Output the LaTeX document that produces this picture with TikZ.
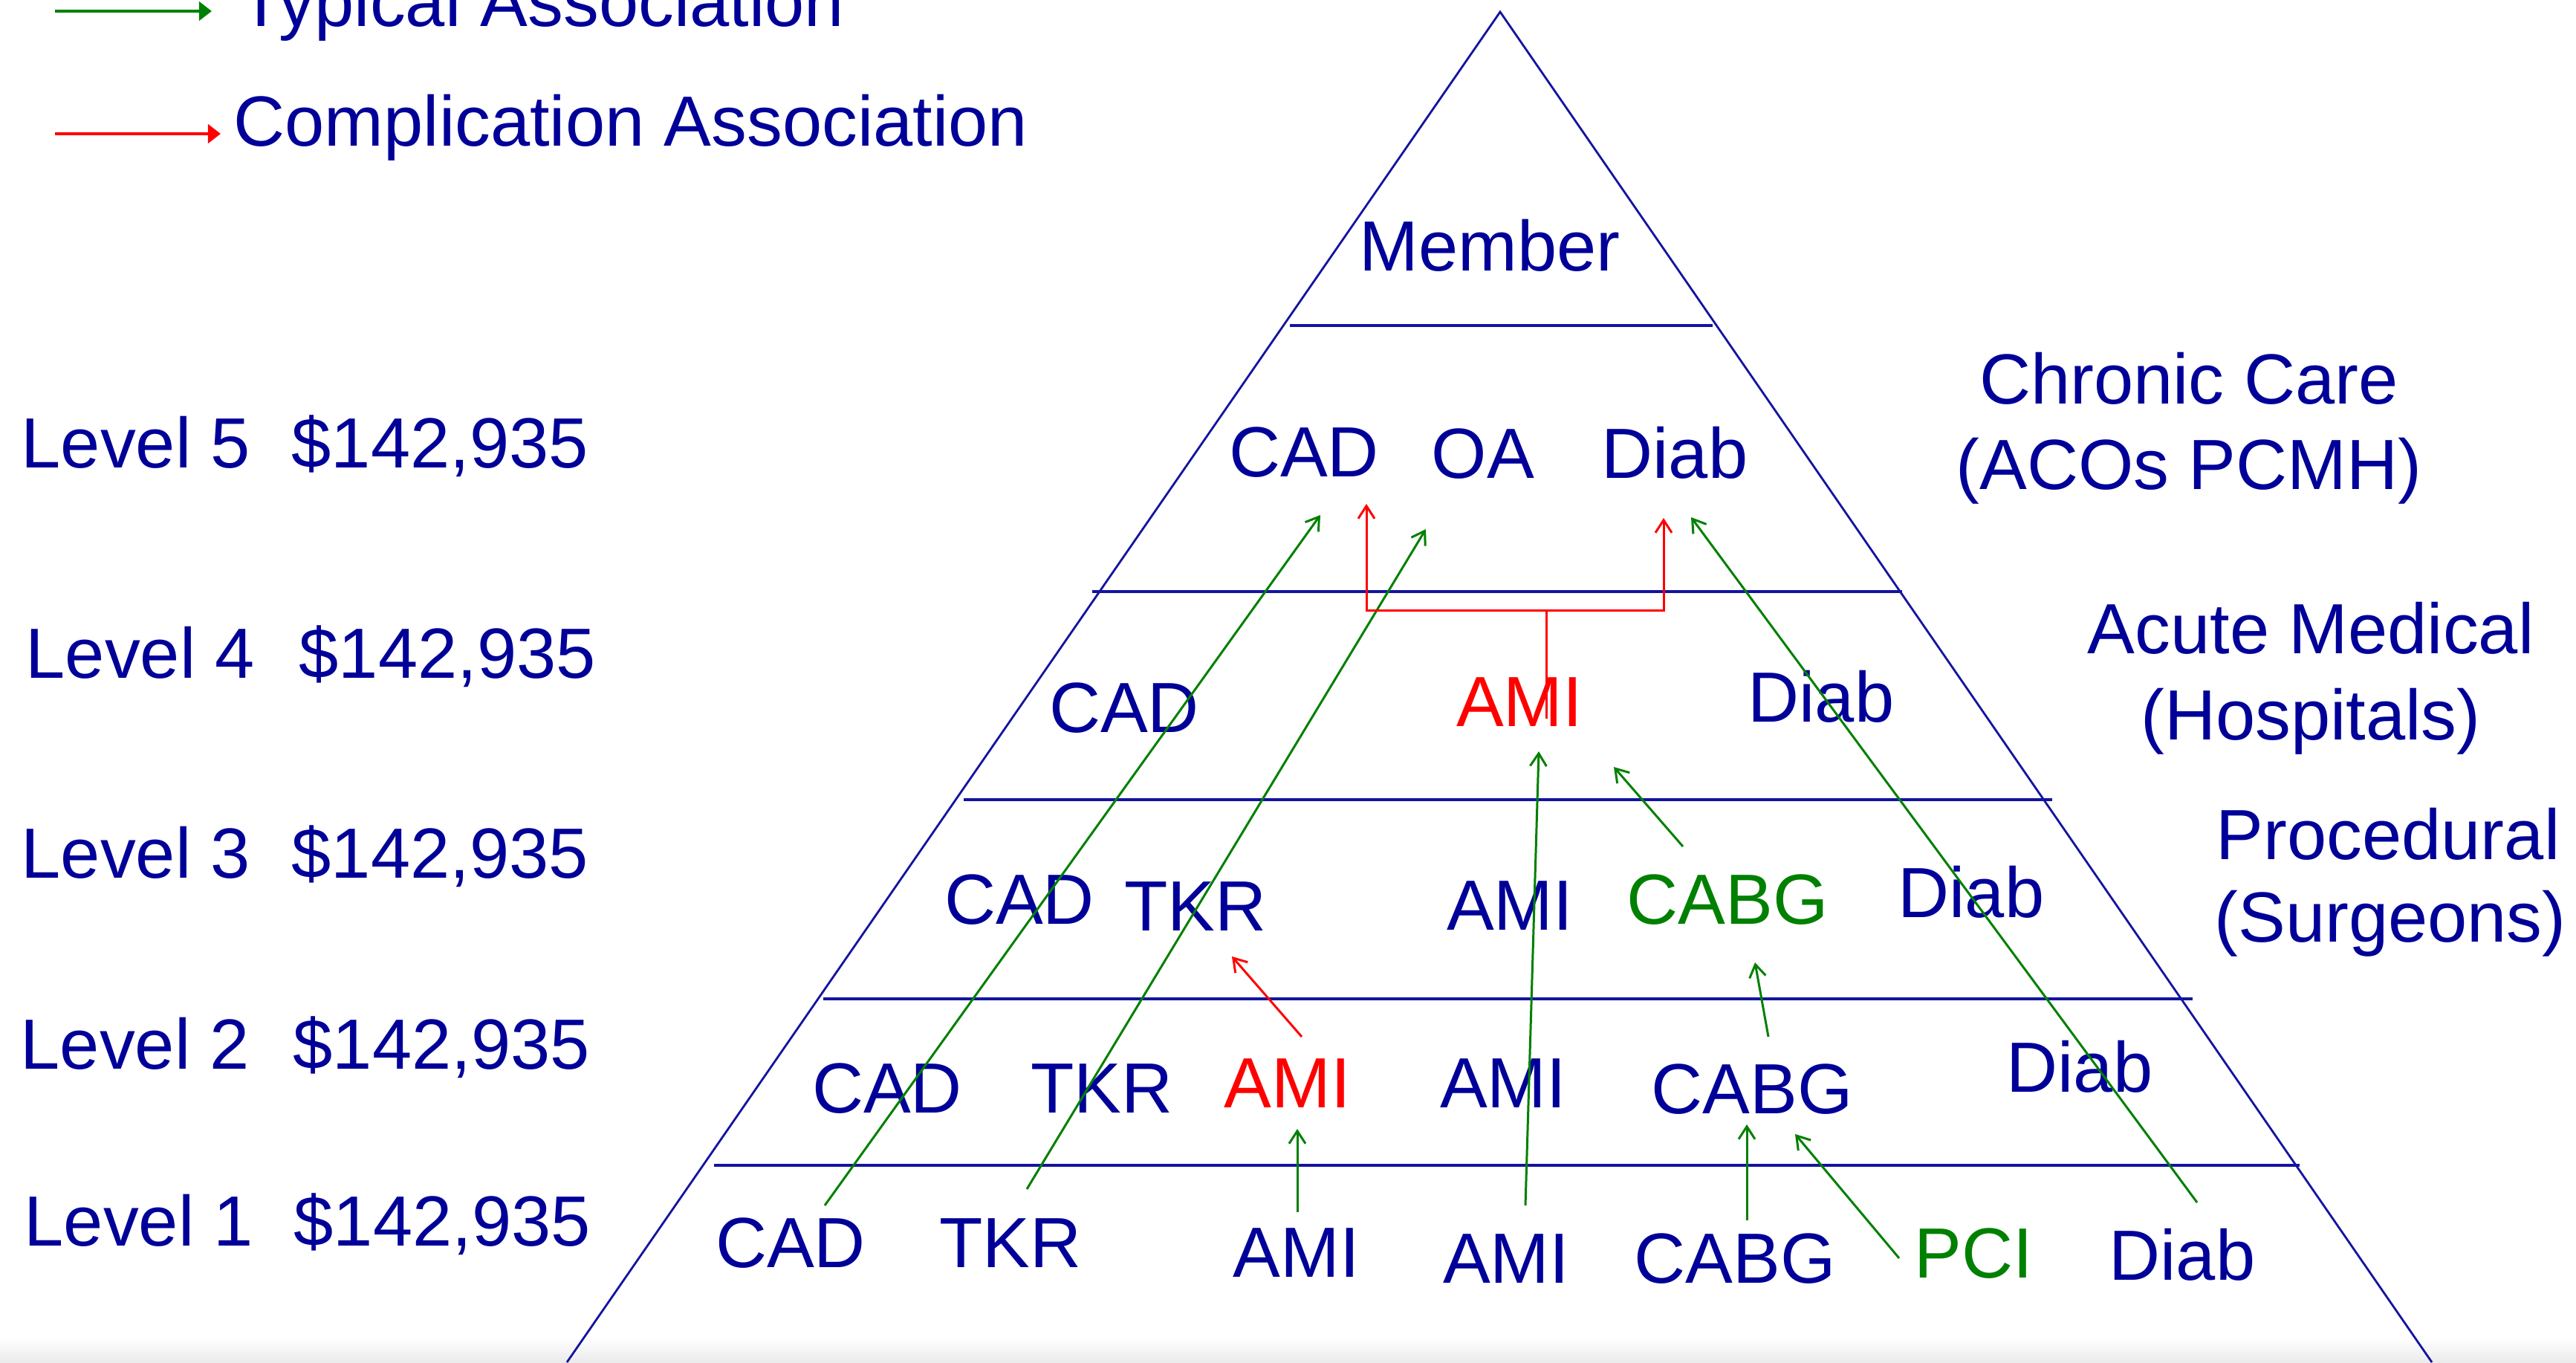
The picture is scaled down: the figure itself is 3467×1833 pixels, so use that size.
\documentclass[tikz,border=0pt]{standalone}
\usepackage{fontspec}
\setmainfont{Liberation Sans}
\usetikzlibrary{arrows.meta,calc}
\definecolor{txtblue}{RGB}{0,0,153}
\definecolor{lineblue}{RGB}{20,20,160}
\definecolor{grn}{RGB}{0,128,0}
\definecolor{rd}{RGB}{255,0,0}
\newcommand{\lblfont}{\fontsize{27.2pt}{33pt}\selectfont}
\begin{document}
\begin{tikzpicture}[x=0.01cm,y=-0.01cm,
  lbl/.style={inner sep=0pt,anchor=base,font=\lblfont,text=txtblue},
  lblw/.style={lbl,anchor=base west},
  gtxt/.style={lbl,text=grn},
  rtxt/.style={lbl,text=rd},
  garrow/.style={draw=grn,line width=0.85pt,-{Straight Barb[length=0.17cm,width=0.22cm]}},
  rarrow/.style={draw=rd,line width=0.85pt,-{Straight Barb[length=0.17cm,width=0.22cm]}},
  rline/.style={draw=rd,line width=0.85pt},
  tier/.style={draw=lineblue,line width=1pt},
  side/.style={draw=lineblue,line width=0.8pt},
  legg/.style={draw=grn,line width=1.3pt,-{Triangle[length=0.17cm,width=0.25cm]}},
  legr/.style={draw=rd,line width=1.3pt,-{Triangle[length=0.17cm,width=0.25cm]}},
]
\clip (0,0) rectangle (3467,1833);
\fill[white] (0,0) rectangle (3467,1833);
\shade[top color=white,bottom color=black!8] (0,1800) rectangle (3467,1833);

% pyramid
\coordinate (apex) at (2019,16);
\coordinate (bl) at (763,1833);
\coordinate (br) at (3273,1833);
\draw[side] (bl) -- (apex) -- (br);
\draw[tier] (1736,438) -- (2305,438);
\draw[tier] (1470,796) -- (2560,796);
\draw[tier] (1297,1076) -- (2762,1076);
\draw[tier] (1108,1344) -- (2951,1344);
\draw[tier] (961,1568) -- (3095,1568);

% legend
\node[lblw] (typ) at (322,35) {Typical Association};
\node[lblw] (comp) at (314,196) {Complication Association};
\coordinate (tA) at (74,15);
\coordinate (tB) at (285,15);
\coordinate (cA) at (74,180);
\coordinate (cB) at (297,180);
\draw[legg] (tA) -- (tB);
\draw[legr] (cA) -- (cB);

% level labels
\node[lblw] (lv5) at (28,629) {Level 5};
\node[lblw] (cost5) at (392,629) {\$142,935};
\node[lblw] (lv4) at (34,912) {Level 4};
\node[lblw] (cost4) at (402,912) {\$142,935};
\node[lblw] (lv3) at (28,1181) {Level 3};
\node[lblw] (cost3) at (392,1181) {\$142,935};
\node[lblw] (lv2) at (27,1438) {Level 2};
\node[lblw] (cost2) at (394,1438) {\$142,935};
\node[lblw] (lv1) at (32,1676) {Level 1};
\node[lblw] (cost1) at (395,1676) {\$142,935};

% right labels
\node[lbl] (chr) at (2946,543) {Chronic Care};
\node[lbl] (aco) at (2946,658) {(ACOs PCMH)};
\node[lbl] (acu) at (3110,879) {Acute Medical};
\node[lbl] (hos) at (3110,995) {(Hospitals)};
\node[lbl] (pro) at (3214,1156) {Procedural};
\node[lbl] (sur) at (3217,1267) {(Surgeons)};

% pyramid contents
\node[lbl] (member) at (2005,364) {Member};
\node[lbl] (cad5) at (1755,641) {CAD};
\node[lbl] (oa5) at (1996,643) {OA};
\node[lbl] (diab5) at (2254,643) {Diab};

\node[lbl] (cad4) at (1513,985) {CAD};
\node[rtxt] (ami4) at (2045,977) {AMI};
\node[lbl] (diab4) at (2451,971) {Diab};

\node[lbl] (cad3) at (1372,1243) {CAD};
\node[lbl] (tkr3) at (1609,1252) {TKR};
\node[lbl] (ami3) at (2032,1251) {AMI};
\node[gtxt] (cabg3) at (2325,1243) {CABG};
\node[lbl] (diab3) at (2653,1234) {Diab};

\node[lbl] (cad2) at (1194,1497) {CAD};
\node[lbl] (tkr2) at (1483,1497) {TKR};
\node[rtxt] (amir2) at (1733,1490) {AMI};
\node[lbl] (ami2) at (2023,1490) {AMI};
\node[lbl] (cabg2) at (2358,1498) {CABG};
\node[lbl] (diab2) at (2799,1469) {Diab};

\node[lbl] (cad1) at (1064,1705) {CAD};
\node[lbl] (tkr1) at (1360,1705) {TKR};
\node[lbl] (amia1) at (1745,1718) {AMI};
\node[lbl] (amib1) at (2027,1726) {AMI};
\node[lbl] (cabg1) at (2335,1726) {CABG};
\node[gtxt] (pci1) at (2656,1719) {PCI};
\node[lbl] (diab1) at (2937,1722) {Diab};

% typical associations
\draw[garrow] ([shift={(46,-83)}]cad1.base) -- ([shift={(22,52)}]cad5.base);
\draw[garrow] ([shift={(22,-105)}]tkr1.base) -- ([shift={(-77,69)}]oa5.base);
\draw[garrow] ([shift={(26,-104)}]amib1.base) -- ([shift={(26,34)}]ami4.base);
\draw[garrow] ([shift={(1,-87)}]amia1.base) -- ([shift={(13,29)}]amir2.base);
\draw[garrow] ([shift={(16,-84)}]cabg1.base) -- ([shift={(-7,15)}]cabg2.base);
\draw[garrow] ([shift={(-100,-26)}]pci1.base) -- ([shift={(58,28)}]cabg2.base);
\draw[garrow] ([shift={(22,-103)}]cabg2.base) -- ([shift={(37,52)}]cabg3.base);
\draw[garrow] ([shift={(-60,-104)}]cabg3.base) -- ([shift={(127,55)}]ami4.base);
\draw[garrow] ([shift={(20,-104)}]diab1.base) -- ([shift={(22,53)}]diab5.base);

% complication associations
\draw[rarrow] ([shift={(19,-95)}]amir2.base) -- ([shift={(49,35)}]tkr3.base);
\coordinate (amisplit) at ([shift={(36,-156)}]ami4.base);
\draw[rline] ([shift={(36,-10)}]ami4.base) -- (amisplit);
\draw[rarrow] (amisplit) -| ([shift={(84,37)}]cad5.base);
\draw[rarrow] (amisplit) -| ([shift={(-15,54)}]diab5.base);
\end{tikzpicture}
\end{document}
